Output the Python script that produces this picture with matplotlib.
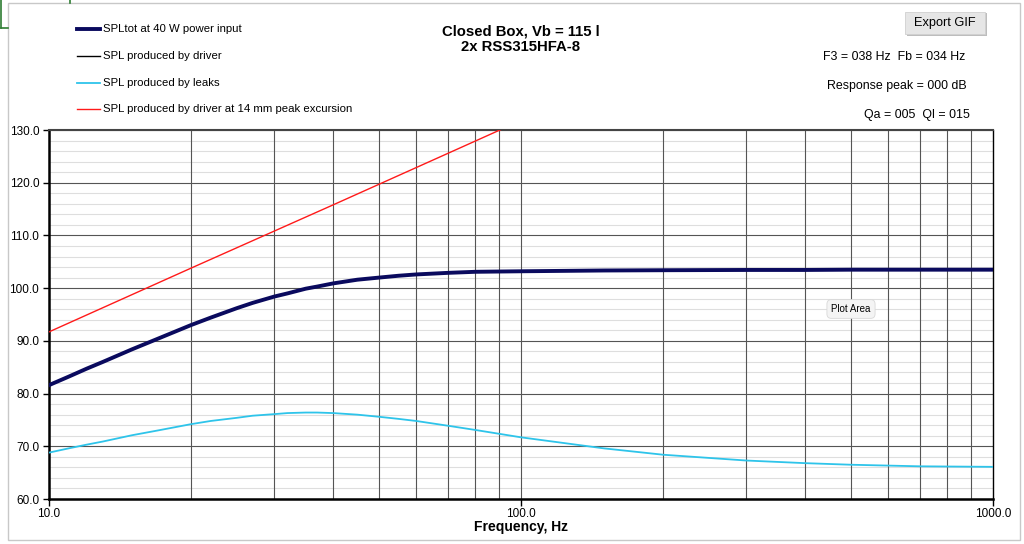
import matplotlib
matplotlib.use("Agg")
import matplotlib.pyplot as plt
from matplotlib.patches import Rectangle
from matplotlib.ticker import FixedLocator, NullFormatter, FixedFormatter

plt.rcParams['font.family'] = ['Liberation Sans', 'DejaVu Sans']

# ---- data ----
freq = [10, 11, 12, 13, 15, 17, 20, 22, 25, 27, 30, 32, 35, 37, 40, 45, 50, 55, 60, 70, 80,
        100, 150, 200, 300, 400, 500, 700, 1000]
spl_tot = [81.6, 83.2, 84.7, 86.0, 88.4, 90.4, 93.0, 94.4, 96.2, 97.2, 98.4, 99.0, 99.9, 100.3,
           100.9, 101.6, 102.0, 102.35, 102.6, 102.9, 103.1, 103.2,
           103.35, 103.4, 103.45, 103.45, 103.5, 103.5, 103.5]
spl_driver = list(spl_tot)
spl_leaks = [68.8, 69.6, 70.3, 70.9, 72.1, 73.0, 74.2, 74.8, 75.4, 75.8, 76.1, 76.3, 76.4, 76.4,
             76.3, 76.0, 75.6, 75.2, 74.8, 73.9, 73.1, 71.7,
             69.6, 68.4, 67.3, 66.8, 66.5, 66.2, 66.1]
freq_exc = [10, 20, 40, 80, 100]
spl_exc = [91.7, 103.8, 115.8, 127.9, 131.8]

legend_labels = ["SPLtot at 40 W power input", "SPL produced by driver",
                 "SPL produced by leaks", "SPL produced by driver at 14 mm peak excursion"]
title_lines = ["Closed Box, Vb = 115 l", "2x RSS315HFA-8"]
info_lines = ["F3 = 038 Hz  Fb = 034 Hz", "Response peak = 000 dB", "Qa = 005  Ql = 015"]
x_ticks = [10, 100, 1000]
x_ticklabels = ["10.0", "100.0", "1000.0"]
y_ticks = [60, 70, 80, 90, 100, 110, 120, 130]

W, H = 1024, 544
fig = plt.figure(figsize=(W / 100, H / 100), dpi=100)
fig.patch.set_facecolor("white")

def fx(px):
    return px / W

def fy(py):
    return 1 - py / H

# spreadsheet chart frame and selected cell
fig.add_artist(Rectangle((fx(8), fy(540)), fx(1020) - fx(8), fy(3) - fy(540),
                         transform=fig.transFigure, fill=False, ec="#c8c8c8", lw=1))
fig.add_artist(plt.Line2D([fx(1), fx(1)], [fy(0), fy(28)], transform=fig.transFigure, color="#2e7d32", lw=1.2))
fig.add_artist(plt.Line2D([fx(1), fx(8)], [fy(28), fy(28)], transform=fig.transFigure, color="#2e7d32", lw=1.2))
fig.add_artist(plt.Line2D([fx(70), fx(70)], [fy(0), fy(3)], transform=fig.transFigure, color="#2e7d32", lw=1.2))

ax = fig.add_axes([fx(49), fy(499), fx(993) - fx(49), fy(130) - fy(499)])
ax.set_xscale("log")
ax.set_xlim(10, 1000)
ax.set_ylim(60, 130)

# grid
minor_x = [v * d for d in (10, 100) for v in range(2, 10)]
for v in minor_x:
    ax.axvline(v, color="#555555", lw=0.8, zorder=1)
ax.axvline(100, color="#555555", lw=0.8, zorder=1)
for v in range(62, 130, 2):
    if v % 10:
        ax.axhline(v, color="#dedede", lw=0.8, zorder=0.5)
for v in y_ticks:
    ax.axhline(v, color="#555555", lw=0.8, zorder=1)

ax.plot(freq, spl_driver, color="black", lw=1, zorder=3)
ax.plot(freq, spl_tot, color="#0a0a5e", lw=2.8, zorder=4, solid_joinstyle="round")
ax.plot(freq, spl_leaks, color="#2ec4ea", lw=1.3, zorder=3)
ax.plot(freq_exc, spl_exc, color="#ff1a1a", lw=1.0, zorder=3)

ax.xaxis.set_major_locator(FixedLocator(x_ticks))
ax.xaxis.set_major_formatter(FixedFormatter(x_ticklabels))
ax.xaxis.set_minor_locator(FixedLocator(minor_x))
ax.xaxis.set_minor_formatter(NullFormatter())
ax.yaxis.set_major_locator(FixedLocator(y_ticks))
ax.set_yticklabels([f"{v:.1f}" for v in y_ticks])
ax.tick_params(axis="x", which="major", direction="out", length=5, width=1, labelsize=8.5, pad=1.5)
ax.tick_params(axis="x", which="minor", length=0)
ax.tick_params(axis="y", direction="out", length=4, width=1, labelsize=8.5, pad=3)
for s in ax.spines.values():
    s.set_color("black")
    s.set_linewidth(1.0)
ax.spines["left"].set_linewidth(1.8)
ax.spines["bottom"].set_linewidth(1.8)
ax.spines["top"].set_color("#444444")
ax.spines["top"].set_linewidth(1.5)
ax.set_xlabel("Frequency, Hz", fontsize=10, fontweight="bold", labelpad=0)

# legend (manual, Excel style)
leg_colors = ["#0a0a5e", "black", "#2ec4ea", "#ff1a1a"]
leg_lw = [2.8, 1.0, 1.3, 1.0]
leg_y = [29, 56, 83, 109]
for lab, c, lw, y in zip(legend_labels, leg_colors, leg_lw, leg_y):
    fig.add_artist(plt.Line2D([fx(77), fx(100)], [fy(y), fy(y)], transform=fig.transFigure, color=c, lw=lw))
    fig.text(fx(103), fy(y), lab, fontsize=8.2, va="center", ha="left")

# title
fig.text(fx(521), fy(31), title_lines[0], fontsize=10.7, fontweight="bold", ha="center", va="center")
fig.text(fx(521), fy(47), title_lines[1], fontsize=10.7, fontweight="bold", ha="center", va="center")

# info text
for t, (xr, y) in zip(info_lines, [(965, 57), (967, 86), (970, 115)]):
    fig.text(fx(xr), fy(y), t, fontsize=8.9, ha="right", va="center")

# Export GIF button
fig.add_artist(Rectangle((fx(907), fy(36)), fx(80), fy(12) - fy(35), transform=fig.transFigure,
                         fc="#bdbdbd", ec="none", zorder=1))
fig.add_artist(Rectangle((fx(905), fy(34)), fx(80), fy(12) - fy(34), transform=fig.transFigure,
                         fc="#e6e6e6", ec="#d0d0d0", lw=0.6, zorder=2))
fig.text(fx(945), fy(23), "Export GIF", fontsize=9.2, ha="center", va="center", zorder=3)

# Plot Area tooltip
fig.text(fx(851), fy(309), "Plot Area", fontsize=7, ha="center", va="center",
         zorder=10, bbox=dict(boxstyle="round,pad=0.45", fc="#f4f4f4", ec="#d8d8d8", lw=0.6))

fig.savefig("out.png", dpi=100)
